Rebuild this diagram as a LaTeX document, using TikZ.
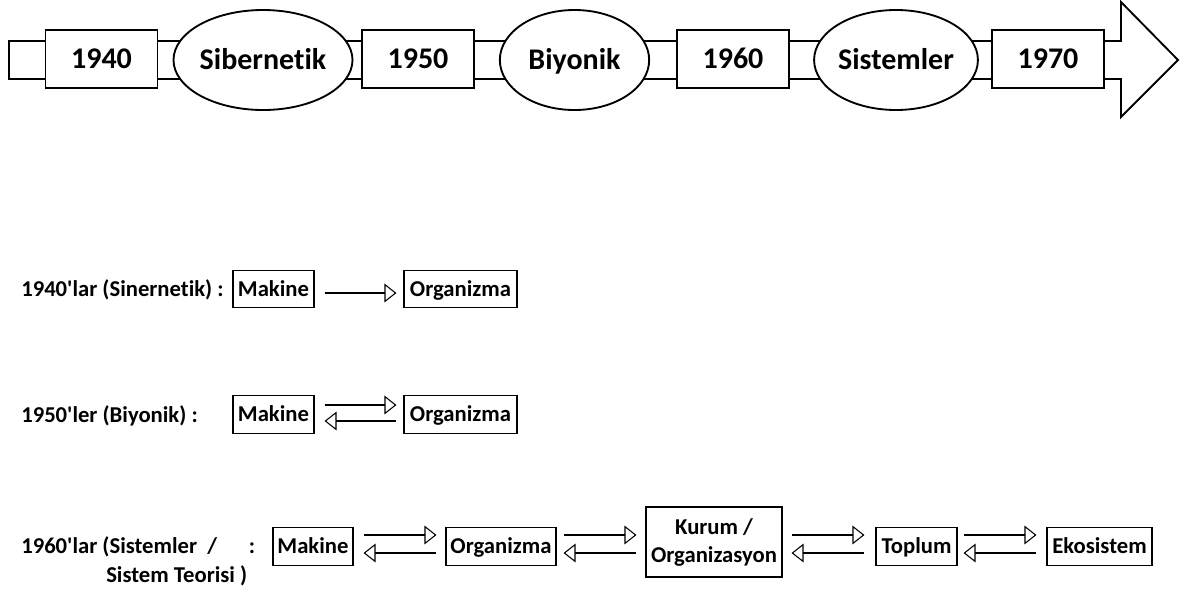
\documentclass[tikz,border=0pt]{standalone}
\usepackage{fontspec}
\newfontfamily\calib{Carlito}[Ligatures={NoCommon,NoContextual}]
\usetikzlibrary{shapes.geometric,arrows.meta,calc}
\begin{document}
\begin{tikzpicture}[x=0.75pt,y=-0.75pt,
  bar/.style={draw,line width=1.4pt,fill=white,inner sep=0pt},
  bigfont/.style={font=\calib\bfseries\fontsize{22.5}{27}\selectfont,text height=14.2pt,text depth=0pt},
  smallfont/.style={font=\calib\bfseries\fontsize{17}{20}\selectfont},
  flat/.style={text height=10.7pt,text depth=0pt},
  yearbox/.style={bar,rectangle,minimum width=84pt,minimum height=43.5pt,bigfont},
  eraoval/.style={bar,ellipse,minimum width=112pt,minimum height=75pt,bigfont},
  item/.style={draw,line width=0.8pt,inner sep=0pt,minimum height=28pt,smallfont},
  rowlabel/.style={anchor=west,inner sep=0pt,smallfont,flat},
  fwd/.style={line width=0.8pt,-{Triangle[open,length=9pt,width=14pt]}},
]
\useasboundingbox (0,0) rectangle (1193,590);

% timeline band ending in a wide arrow head
\coordinate (tip) at (1178,60);
\draw[line width=1.4pt] (9,41) -- (1121,41) -- (1121,2) -- (tip)
  -- (1121,117) -- (1121,79) -- (9,79) -- cycle;

\node[yearbox] (y40) at (101.5,59) {1940};
\node[eraoval] (sib) at (263,60) {Sibernetik};
\node[yearbox] (y50) at (418,59) {1950};
\node[eraoval] (biy) at (574.5,60) {Biyonik};
\node[yearbox] (y60) at (733,59) {1960};
\node[eraoval] (sis) at (896,60) {Sistemler};
\node[yearbox] (y70) at (1048,59) {1970};

% 1940s
\node[rowlabel] (l1) at (21,289) {1940'lar (Sinernetik) :};
\node[item,flat,minimum width=60.75pt] (mak1) at (273.5,289) {Makine};
\node[item,flat,minimum width=84.75pt] (org1) at (460.5,289) {Organizma};
\draw[fwd] ([shift={(10,4)}]mak1.east) -- ([shift={(-7,4)}]org1.west);

% 1950s
\node[rowlabel] (l2) at (21,415) {1950'ler (Biyonik) :};
\node[item,flat,minimum width=60.75pt] (mak2) at (273.5,414.5) {Makine};
\node[item,flat,minimum width=84.75pt] (org2) at (460.5,414.5) {Organizma};
\draw[fwd] ([shift={(10,-9.5)}]mak2.east) -- ([shift={(-7,-9.5)}]org2.west);
\draw[fwd] ([shift={(-7,6.5)}]org2.west) -- ([shift={(10,6.5)}]mak2.east);

% 1960s
\node[rowlabel] (l3a) at (21,546) {1960'lar (Sistemler\ \ /};
\node[inner sep=0pt,smallfont,flat] (l3c) at (252,546) {:};
\node[rowlabel] (l3b) at (106,575) {Sistem Teorisi )};
\node[item,flat,minimum width=60pt] (mak3) at (313,546.5) {Makine};
\node[item,flat,minimum width=82.5pt] (org3) at (501,546.5) {Organizma};
\node[item,minimum width=102pt,minimum height=52.5pt,align=center] (kur) at (714,542) {Kurum /\\[1pt]Organizasyon};
\node[item,flat,minimum width=60.75pt] (top) at (916.5,546.5) {Toplum};
\node[item,flat,minimum width=78.75pt] (eko) at (1099.5,546.5) {Ekosistem};

\draw[fwd] ([shift={(10,-11.5)}]mak3.east) -- ([shift={(-9,-11.5)}]org3.west);
\draw[fwd] ([shift={(-9,6.5)}]org3.west) -- ([shift={(10,6.5)}]mak3.east);

\draw[fwd] ([shift={(7,-11.5)}]org3.east) -- ($(kur.west |- org3.center)+(-9,-11.5)$);
\draw[fwd] ($(kur.west |- org3.center)+(-9,6.5)$) -- ([shift={(7,6.5)}]org3.east);

\draw[fwd] ($(kur.east |- top.center)+(9,-11.5)$) -- ([shift={(-11,-11.5)}]top.west);
\draw[fwd] ([shift={(-11,6.5)}]top.west) -- ($(kur.east |- top.center)+(9,6.5)$);

\draw[fwd] ([shift={(6,-11.5)}]top.east) -- ([shift={(-10,-11.5)}]eko.west);
\draw[fwd] ([shift={(-10,6.5)}]eko.west) -- ([shift={(6,6.5)}]top.east);
\end{tikzpicture}
\end{document}
